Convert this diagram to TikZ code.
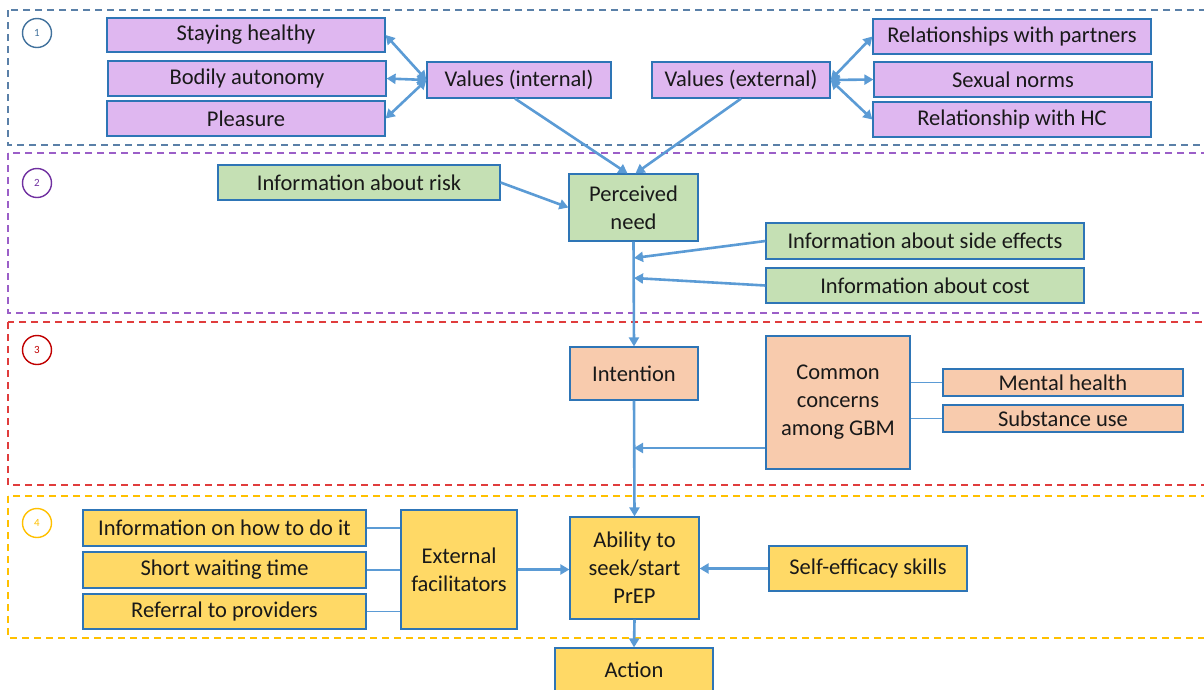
\documentclass[tikz,border=0pt]{standalone}
\usepackage{fontspec}
\setmainfont{Carlito}
\usetikzlibrary{arrows.meta}
\definecolor{arrowblue}{HTML}{5B9BD5}
\definecolor{edgeblue}{HTML}{2E75B6}
\definecolor{lilac}{HTML}{DFB7F0}
\definecolor{sage}{HTML}{C5E0B4}
\definecolor{peach}{HTML}{F8CBAD}
\definecolor{gold}{HTML}{FFD966}
\definecolor{frameone}{HTML}{5A80A8}
\definecolor{frametwo}{HTML}{9B5FC8}
\definecolor{framethree}{HTML}{E03C3C}
\definecolor{framefour}{HTML}{FFC000}
\definecolor{ringone}{HTML}{41719C}
\definecolor{ringtwo}{HTML}{7030A0}
\definecolor{ringthree}{HTML}{C00000}
\tikzset{
  box/.style={draw=edgeblue, line width=1.2pt, inner sep=0pt, align=center,
    font=\fontsize{22.5}{28}\selectfont, text=black!90},
  purplebox/.style={box, fill=lilac},
  greenbox/.style={box, fill=sage},
  orangebox/.style={box, fill=peach},
  goldbox/.style={box, fill=gold},
  frame/.style={dashed, dash pattern=on 7pt off 5pt, line width=1.6pt},
  ring/.style={circle, draw, line width=1.4pt, minimum size=29pt, inner sep=0pt,
    font=\fontsize{11}{12}\selectfont, text=black!75},
  arr/.style={draw=arrowblue, line width=2.6pt, -{Triangle[length=9pt,width=10pt]}},
  twoway/.style={draw=arrowblue, line width=2.6pt,
    {Triangle[length=9pt,width=10pt]}-{Triangle[length=9pt,width=10pt]}},
  plain/.style={draw=arrowblue, line width=1.5pt},
}
\begin{document}
\begin{tikzpicture}[x=1pt,y=-1pt]
\useasboundingbox (0,0) rectangle (1204,689);

% section frames
\draw[frame, frameone]   (8,10)  rectangle (1210,145);
\draw[frame, frametwo]   (8,153) rectangle (1210,313);
\draw[frame, framethree] (8,322) rectangle (1210,485);
\draw[frame, framefour]  (8,496) rectangle (1210,638);

% section numbers
\node[ring, ringone]    (n1) at (37,33)  {1};
\node[ring, ringtwo]    (n2) at (37,183) {2};
\node[ring, ringthree]  (n3) at (37,350) {3};
\node[ring, framefour]  (n4) at (37,523) {4};

% 1: values
\node[purplebox, minimum width=278pt, minimum height=34pt] (sh) at (246,35)    {Staying healthy};
\node[purplebox, minimum width=278pt, minimum height=35pt] (ba) at (247,78.5)  {Bodily autonomy};
\node[purplebox, minimum width=278pt, minimum height=35pt] (pl) at (246,118.5) {Pleasure};
\node[purplebox, minimum width=184pt, minimum height=36pt] (vi) at (519,80)    {Values (internal)};
\node[purplebox, minimum width=178pt, minimum height=36pt] (ve) at (741,80)    {Values (external)};
\node[purplebox, minimum width=278pt, minimum height=35pt] (rp) at (1012,36.5)  {Relationships with partners};
\node[purplebox, minimum width=278pt, minimum height=35pt] (sn) at (1013,79.5)  {Sexual norms};
\node[purplebox, minimum width=278pt, minimum height=35pt] (rh) at (1012,119.5) {Relationship with HC};

% 2: perceived need
\node[greenbox, minimum width=282pt, minimum height=35pt] (ir) at (359,182.5) {Information about risk};
\node[greenbox, minimum width=129pt, minimum height=67pt] (pn) at (633.5,207.5) {Perceived\\need};
\node[greenbox, minimum width=318pt, minimum height=36pt] (se) at (925,241)   {Information about side effects};
\node[greenbox, minimum width=318pt, minimum height=35pt] (co) at (925,285.5) {Information about cost};

% 3: intention
\node[orangebox, minimum width=128pt, minimum height=53pt]  (in) at (634,373.5) {Intention};
\node[orangebox, minimum width=144pt, minimum height=133pt] (cc) at (838,402.5) {Common\\concerns\\among GBM};
\node[orangebox, minimum width=240pt, minimum height=27pt]  (mh) at (1063,382.5) {Mental health};
\node[orangebox, minimum width=240pt, minimum height=27pt]  (su) at (1063,418.5) {Substance use};

% 4: ability
\node[goldbox, minimum width=283pt, minimum height=36pt]  (ih) at (224.5,528)   {Information on how to do it};
\node[goldbox, minimum width=283pt, minimum height=36pt]  (sw) at (224.5,570)   {Short waiting time};
\node[goldbox, minimum width=283pt, minimum height=35pt]  (rf) at (224.5,611.5) {Referral to providers};
\node[goldbox, minimum width=116pt, minimum height=119pt] (ef) at (459,569.5)   {External\\facilitators};
\node[goldbox, minimum width=129pt, minimum height=102pt] (ab) at (634.5,568)   {Ability to\\seek/start\\PrEP};
\node[goldbox, minimum width=198pt, minimum height=45pt]  (sk) at (868,568.5)   {Self-efficacy skills};
\node[goldbox, minimum width=158pt, minimum height=44pt]  (ac) at (634,670)     {Action};

% junctions on the main vertical path
\coordinate (j1) at (634,258);
\coordinate (j2) at (634,278);
\coordinate (j3) at (634,448);

% connectors, section 1
\draw[twoway] (vi.west) -- (sh.east);
\draw[twoway] (vi.west) -- (ba.east);
\draw[twoway] (vi.west) -- (pl.east);
\draw[twoway] (ve.east) -- (rp.west);
\draw[twoway] (ve.east) -- (sn.west);
\draw[twoway] (ve.east) -- (rh.west);
\draw[arr] ([xshift=-4pt]vi.south) -- ([xshift=-6pt]pn.north);
\draw[arr] (ve.south) -- ([xshift=2pt]pn.north);

% connectors, section 2
\draw[arr] (ir.east) -- (pn.west);
\draw[arr] (pn.south) -- (in.north);
\draw[arr] (se.west) -- (j1);
\draw[arr] (co.west) -- (j2);

% connectors, section 3
\draw[plain] (cc.east |- mh.west) -- (mh.west);
\draw[plain] (cc.east |- su.west) -- (su.west);
\draw[arr] (cc.west |- j3) -- (j3);
\draw[arr] (in.south) -- (ab.north);

% connectors, section 4
\draw[plain] (ih.east) -- (ef.west |- ih.east);
\draw[plain] (sw.east) -- (ef.west |- sw.east);
\draw[plain] (rf.east) -- (ef.west |- rf.east);
\draw[arr] (ef.east) -- (ab.west |- ef.east);
\draw[arr] (sk.west) -- (ab.east |- sk.west);
\draw[arr] (ab.south) -- (ac.north);
\end{tikzpicture}
\end{document}
